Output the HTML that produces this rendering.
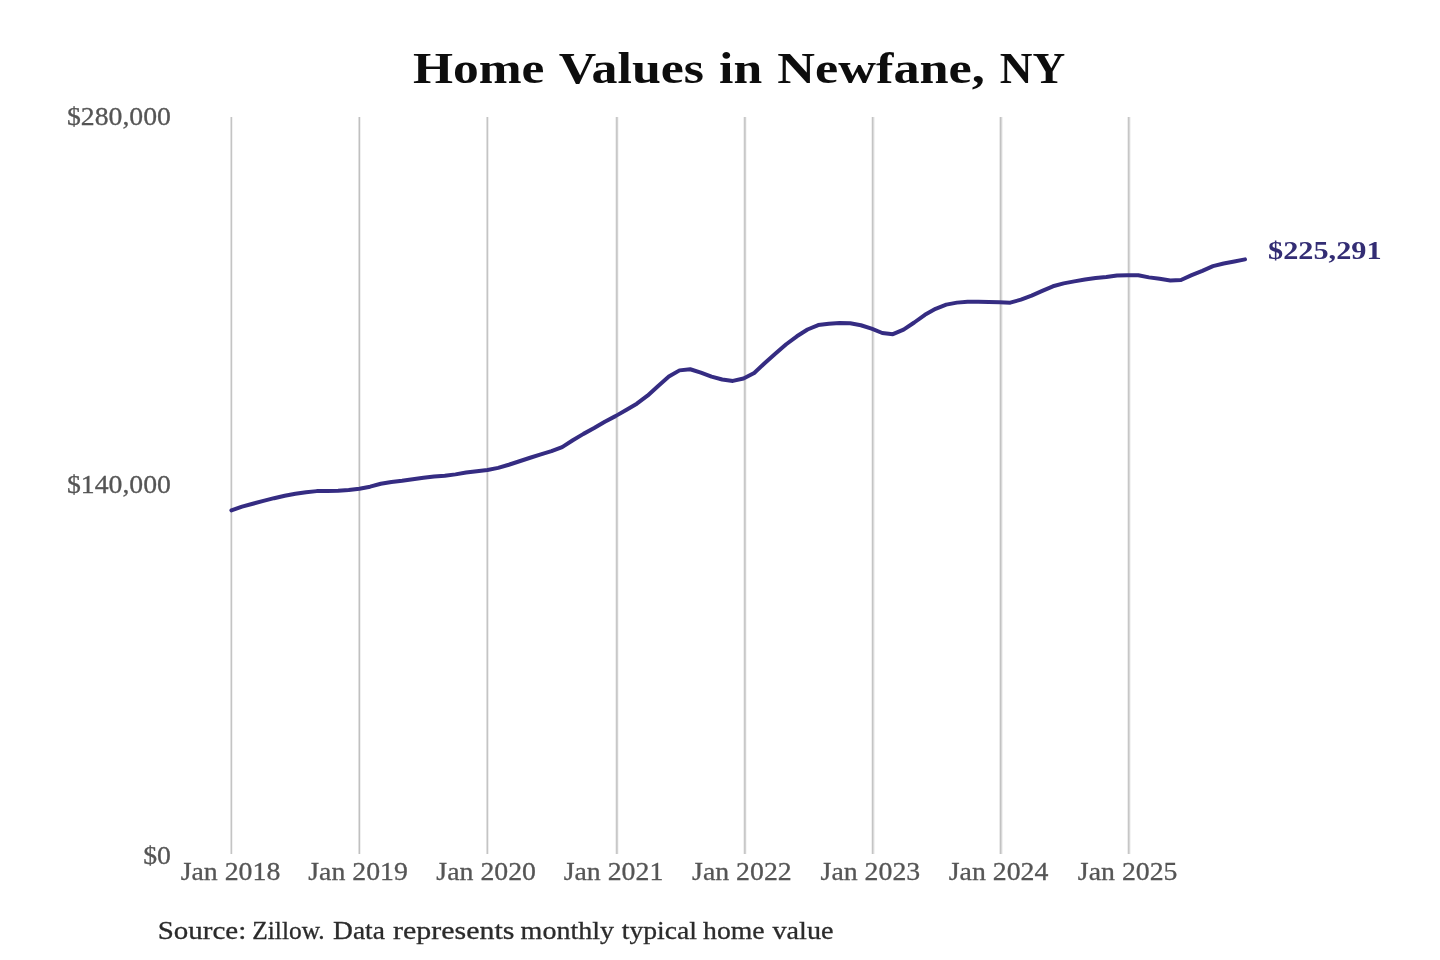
<!DOCTYPE html>
<html><head><meta charset="utf-8"><style>
html,body{margin:0;padding:0;background:#fff;}
body{width:1440px;height:960px;overflow:hidden;position:relative;}
svg{position:absolute;left:0;top:0;will-change:transform;}
text{font-family:"Liberation Serif", serif;}
</style></head><body>
<svg width="1440" height="960" viewBox="0 0 1440 960">
<rect width="1440" height="960" fill="#fff"/>
<g shape-rendering="crispEdges">
<rect x="230" y="117" width="1" height="736.5" fill="#e2e2e2"/>
<rect x="231" y="117" width="1" height="736.5" fill="#c4c4c4"/>
<rect x="232" y="117" width="1" height="736.5" fill="#f2f2f2"/>
<rect x="358" y="117" width="1" height="736.5" fill="#e0e0e0"/>
<rect x="359" y="117" width="1" height="736.5" fill="#c0c0c0"/>
<rect x="360" y="117" width="1" height="736.5" fill="#f0f0f0"/>
<rect x="486" y="117" width="1" height="736.5" fill="#e0e0e0"/>
<rect x="487" y="117" width="1" height="736.5" fill="#c4c4c4"/>
<rect x="488" y="117" width="1" height="736.5" fill="#eeeeee"/>
<rect x="615" y="117" width="1" height="736.5" fill="#f0f0f0"/>
<rect x="616" y="117" width="1" height="736.5" fill="#c8c8c8"/>
<rect x="617" y="117" width="1" height="736.5" fill="#d2d2d2"/>
<rect x="618" y="117" width="1" height="736.5" fill="#f6f6f6"/>
<rect x="743" y="117" width="1" height="736.5" fill="#f0f0f0"/>
<rect x="744" y="117" width="1" height="736.5" fill="#c8c8c8"/>
<rect x="745" y="117" width="1" height="736.5" fill="#d2d2d2"/>
<rect x="746" y="117" width="1" height="736.5" fill="#f6f6f6"/>
<rect x="871" y="117" width="1" height="736.5" fill="#f0f0f0"/>
<rect x="872" y="117" width="1" height="736.5" fill="#c4c4c4"/>
<rect x="873" y="117" width="1" height="736.5" fill="#dadada"/>
<rect x="874" y="117" width="1" height="736.5" fill="#f2f2f2"/>
<rect x="999" y="117" width="1" height="736.5" fill="#eaeaea"/>
<rect x="1000" y="117" width="1" height="736.5" fill="#c2c2c2"/>
<rect x="1001" y="117" width="1" height="736.5" fill="#d8d8d8"/>
<rect x="1002" y="117" width="1" height="736.5" fill="#f2f2f2"/>
<rect x="1127" y="117" width="1" height="736.5" fill="#eeeeee"/>
<rect x="1128" y="117" width="1" height="736.5" fill="#c6c6c6"/>
<rect x="1129" y="117" width="1" height="736.5" fill="#d8d8d8"/>
<rect x="1130" y="117" width="1" height="736.5" fill="#f4f4f4"/>
</g>
<g font-size="44.6" font-weight="bold" fill="#0d0d0d"><text transform="translate(412.95,83.1) scale(1.1545,1)">Home</text><text transform="translate(558.8,83.1) scale(1.1645,1)">Values</text><text transform="translate(719.04,83.1) scale(1.1583,1)">in</text><text transform="translate(777.33,83.1) scale(1.1718,1)">Newfane,</text><text transform="translate(999.68,83.1) scale(1.0159,1)">NY</text></g>
<g fill="#555" stroke="#555" stroke-width="0.3">
<g font-size="26.2">
<text transform="translate(230.5,879.8) scale(1.062,1)" text-anchor="middle">Jan 2018</text>
<text transform="translate(358.1,879.8) scale(1.062,1)" text-anchor="middle">Jan 2019</text>
<text transform="translate(486.2,879.8) scale(1.062,1)" text-anchor="middle">Jan 2020</text>
<text transform="translate(613.5,879.8) scale(1.062,1)" text-anchor="middle">Jan 2021</text>
<text transform="translate(741.9,879.8) scale(1.062,1)" text-anchor="middle">Jan 2022</text>
<text transform="translate(870.4,879.8) scale(1.062,1)" text-anchor="middle">Jan 2023</text>
<text transform="translate(998.6,879.8) scale(1.062,1)" text-anchor="middle">Jan 2024</text>
<text transform="translate(1127.7,879.8) scale(1.062,1)" text-anchor="middle">Jan 2025</text>
</g>
<g font-size="26.2">
<text transform="translate(171,125.0) scale(1.06,1)" text-anchor="end">$280,000</text>
<text transform="translate(171,493.0) scale(1.06,1)" text-anchor="end">$140,000</text>
<text transform="translate(171,864.1) scale(1.06,1)" text-anchor="end">$0</text>
</g>
</g>
<path d="M231.40,510.40 L242.07,506.63 L252.74,503.70 L263.41,500.85 L274.08,498.18 L284.75,495.77 L295.42,493.69 L306.09,492.19 L316.76,491.12 L327.43,490.95 L338.09,490.84 L348.76,490.10 L359.43,488.68 L370.10,486.67 L380.77,483.77 L391.44,482.04 L402.11,480.80 L412.78,479.31 L423.45,477.82 L434.12,476.57 L444.79,475.72 L455.46,474.37 L466.13,472.56 L476.80,471.15 L487.47,469.98 L498.14,467.91 L508.81,464.77 L519.48,461.27 L530.15,457.75 L540.81,454.46 L551.48,451.20 L562.15,447.09 L572.82,440.26 L583.49,433.87 L594.16,428.05 L604.83,421.68 L615.50,416.11 L626.17,409.98 L636.84,403.70 L647.51,395.72 L658.18,385.93 L668.85,376.59 L679.52,370.37 L690.19,369.26 L700.86,372.63 L711.53,376.66 L722.20,379.55 L732.87,380.91 L743.53,378.46 L754.20,372.96 L764.87,363.04 L775.54,353.52 L786.21,344.27 L796.88,336.28 L807.55,329.52 L818.22,325.10 L828.89,323.72 L839.56,323.12 L850.23,323.34 L860.90,325.25 L871.57,328.64 L882.24,333.02 L892.91,334.19 L903.58,329.58 L914.25,322.50 L924.92,314.76 L935.59,308.80 L946.25,304.65 L956.92,302.63 L967.59,301.82 L978.26,301.70 L988.93,301.88 L999.60,302.19 L1010.27,302.63 L1020.94,299.65 L1031.61,295.59 L1042.28,290.83 L1052.95,286.29 L1063.62,283.41 L1074.29,281.34 L1084.96,279.51 L1095.63,278.07 L1106.30,277.00 L1116.97,275.44 L1127.64,275.20 L1138.31,275.26 L1148.97,277.39 L1159.64,278.85 L1170.31,280.40 L1180.98,280.01 L1191.65,275.16 L1202.32,270.81 L1212.99,266.10 L1223.66,263.47 L1234.33,261.51 L1245.00,259.40" fill="none" stroke="#352c82" stroke-width="4" stroke-linecap="round" stroke-linejoin="round"/>
<text transform="translate(1268,259.2) scale(1.165,1)" font-size="26" font-weight="bold" fill="#332d74">$225,291</text>
<g font-size="25.4" fill="#2b2b2b" stroke="#2b2b2b" stroke-width="0.3"><text transform="translate(157.72,938.6) scale(1.1411,1)">Source:</text><text transform="translate(252.3,938.6) scale(1.0,1)">Zillow.</text><text transform="translate(333.12,938.6) scale(1.0809,1)">Data</text><text transform="translate(393.02,938.6) scale(1.1792,1)">represents</text><text transform="translate(520.6,938.6) scale(1.1036,1)">monthly</text><text transform="translate(621.7,938.6) scale(1.0897,1)">typical</text><text transform="translate(703.11,938.6) scale(1.0909,1)">home</text><text transform="translate(772.5,938.6) scale(1.1111,1)">value</text></g>
</svg>
</body></html>
